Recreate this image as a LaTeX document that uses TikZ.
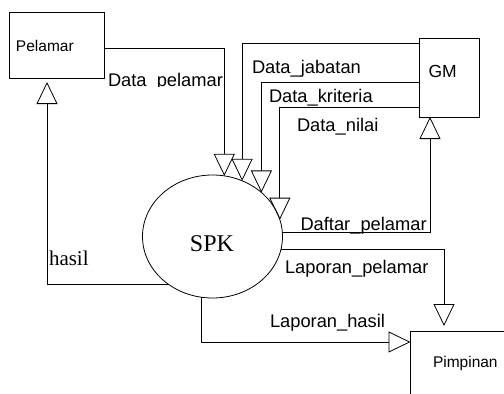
\documentclass[tikz,border=0pt]{standalone}
\usepackage{fontspec}
\setmainfont{Liberation Sans}
\newfontfamily\timesface{Liberation Serif}
\usetikzlibrary{arrows.meta,shapes.geometric}
\begin{document}
\begin{tikzpicture}[x=1pt,y=-1pt,
  every node/.style={inner sep=0pt, outer sep=0pt},
  entity/.style={draw, line width=0.8pt, rectangle},
  process/.style={draw, ellipse, line width=0.8pt, minimum width=140pt, minimum height=123pt},
  flow/.style={line width=0.8pt, -{Triangle[open, length=22pt, width=21pt]}},
  flowlabel/.style={anchor=base west, font=\fontsize{18.3pt}{20pt}\selectfont},
  boxlabel/.style={anchor=base west, font=\fontsize{15.5pt}{18pt}\selectfont},
  seriflabel/.style={anchor=base west, font=\timesface\fontsize{21pt}{24pt}\selectfont},
]
\useasboundingbox (0,0) rectangle (504,394);

% external entities and the process
\node[entity, minimum width=95pt, minimum height=66pt] (pelamar) at (56.5,45) {};
\node[entity, minimum width=60pt, minimum height=79pt] (gm) at (449,77.5) {};
\node[entity, minimum width=110pt, minimum height=66pt] (pimpinan) at (465.5,364) {};
\node[process] (spk) at (212.5,236.5) {};

\node[boxlabel] (pelamarlabel) at (16,51.7) {Pelamar};
\node[boxlabel, font=\fontsize{17.5pt}{20pt}\selectfont] (gmlabel) at (428.5,77.7) {GM};
\node[boxlabel] (pimpinanlabel) at (433,367.7) {Pimpinan};
\node[anchor=base, font=\timesface\fontsize{24pt}{26pt}\selectfont] (spklabel) at (212,251) {SPK};

% data flows into SPK
\draw[flow] ([shift={(0,3)}]pelamar.east) -| (spk.79);
\draw[flow] ([shift={(0,5)}]gm.north west) -| (spk.62);
\draw[flow] ([shift={(0,44)}]gm.north west) -| (spk.42);
\draw[flow] ([shift={(0,69)}]gm.north west) -| (spk.14);

% data flows out of SPK
\draw[flow] (spk.3) -| ([shift={(-19,0)}]gm.south);
\draw[flow, shorten >=5pt] (spk.349) -| ([shift={(-21.5,0)}]pimpinan.north);
\draw[flow] (spk.260) |- ([shift={(0,11)}]pimpinan.north west);
\draw[flow, shorten >=4pt] (spk.228) -| ([shift={(-9.5,0)}]pelamar.south);

% flow labels
\begin{scope}
  \clip (100,50) rectangle (224,86.8);
  \node[flowlabel] (lblpelamar) at (108,86.5) {Data\_pelamar};
\end{scope}
\node[flowlabel] (lbljabatan) at (252,73) {Data\_jabatan};
\node[flowlabel] (lblkriteria) at (269,102) {Data\_kriteria};
\node[flowlabel] (lblnilai) at (297,131.7) {Data\_nilai};
\node[flowlabel] (lbldaftar) at (300.5,230) {Daftar\_pelamar};
\node[flowlabel] (lbllappelamar) at (285,273.3) {Laporan\_pelamar};
\node[flowlabel] (lbllaphasil) at (270,327.3) {Laporan\_hasil};
\node[seriflabel] (lblhasil) at (49,265) {hasil};
\end{tikzpicture}
\end{document}
